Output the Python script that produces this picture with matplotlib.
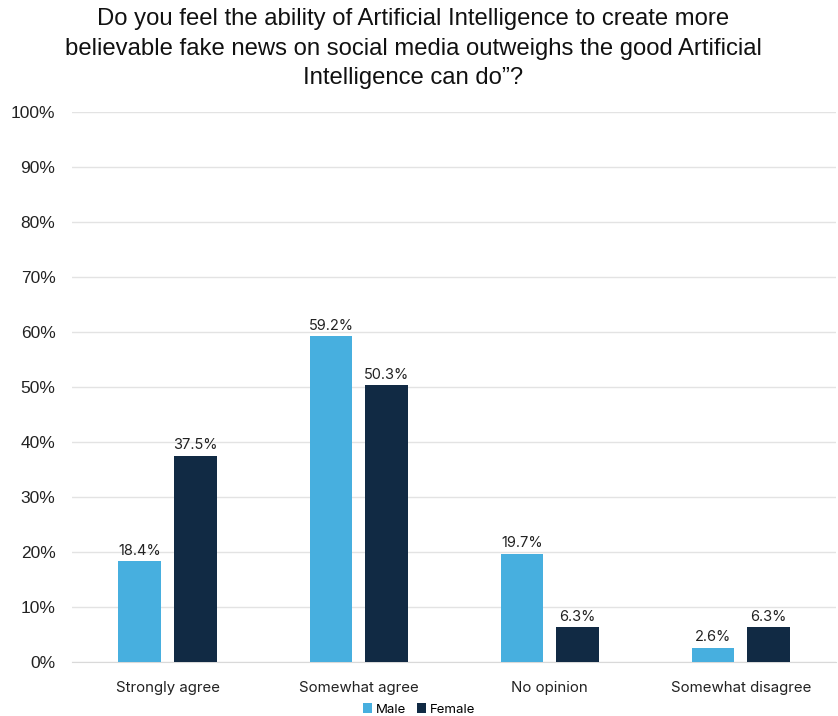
import matplotlib
matplotlib.use("Agg")
import matplotlib.pyplot as plt
import numpy as np

categories = ["Strongly agree", "Somewhat agree", "No opinion", "Somewhat disagree"]
male = [18.4, 59.2, 19.7, 2.6]
female = [37.5, 50.3, 6.3, 6.3]
title = ("Do you feel the ability of Artificial Intelligence to create more\n"
         "believable fake news on social media outweighs the good Artificial\n"
         "Intelligence can do\u201d?")

c_male = "#47AFDF"
c_female = "#112A44"

fig = plt.figure(figsize=(8.38, 7.16), dpi=100)
ax = fig.add_axes([0.086, 0.0754, 0.912, 0.7682])

x = np.arange(len(categories))
w = 0.224
b1 = ax.bar(x - 0.145, male, w, color=c_male, label="Male", zorder=3)
b2 = ax.bar(x + 0.145, female, w, color=c_female, label="Female", zorder=3)

for bars in (b1, b2):
    for r in bars:
        ax.text(r.get_x() + r.get_width() / 2, r.get_height() + 0.6,
                "%.1f%%" % r.get_height(), ha="center", va="bottom",
                fontsize=10.5, color="#222222", family="Inter")

ax.set_xlim(-0.5, 3.5)
ax.set_ylim(0, 100)
ax.set_yticks(range(0, 101, 10))
ax.set_yticklabels(["%d%%" % v for v in range(0, 101, 10)], fontsize=12.5,
                   family="Liberation Sans", color="#222222")
ax.set_xticks(x)
ax.set_xticklabels(categories, fontsize=10.8, family="Inter", color="#222222")
ax.tick_params(axis="both", length=0, pad=12)
ax.tick_params(axis="x", pad=14)
ax.grid(axis="y", color="#E3E3E3", linewidth=1, zorder=0)
for s in ["top", "right", "left"]:
    ax.spines[s].set_visible(False)
ax.spines["bottom"].set_color("#D9D9D9")

fig.text(0.493, 0.989, title, ha="center", va="top", fontsize=17.2,
         family="Liberation Sans", color="#111111", linespacing=1.45)

fig.legend(loc="lower center", bbox_to_anchor=(0.5, -0.016), ncol=2, frameon=False,
           handlelength=0.7, handleheight=0.7, handletextpad=0.3,
           columnspacing=0.8, prop={"family": "Inter", "size": 9.5})

plt.savefig("out.png", dpi=100)
